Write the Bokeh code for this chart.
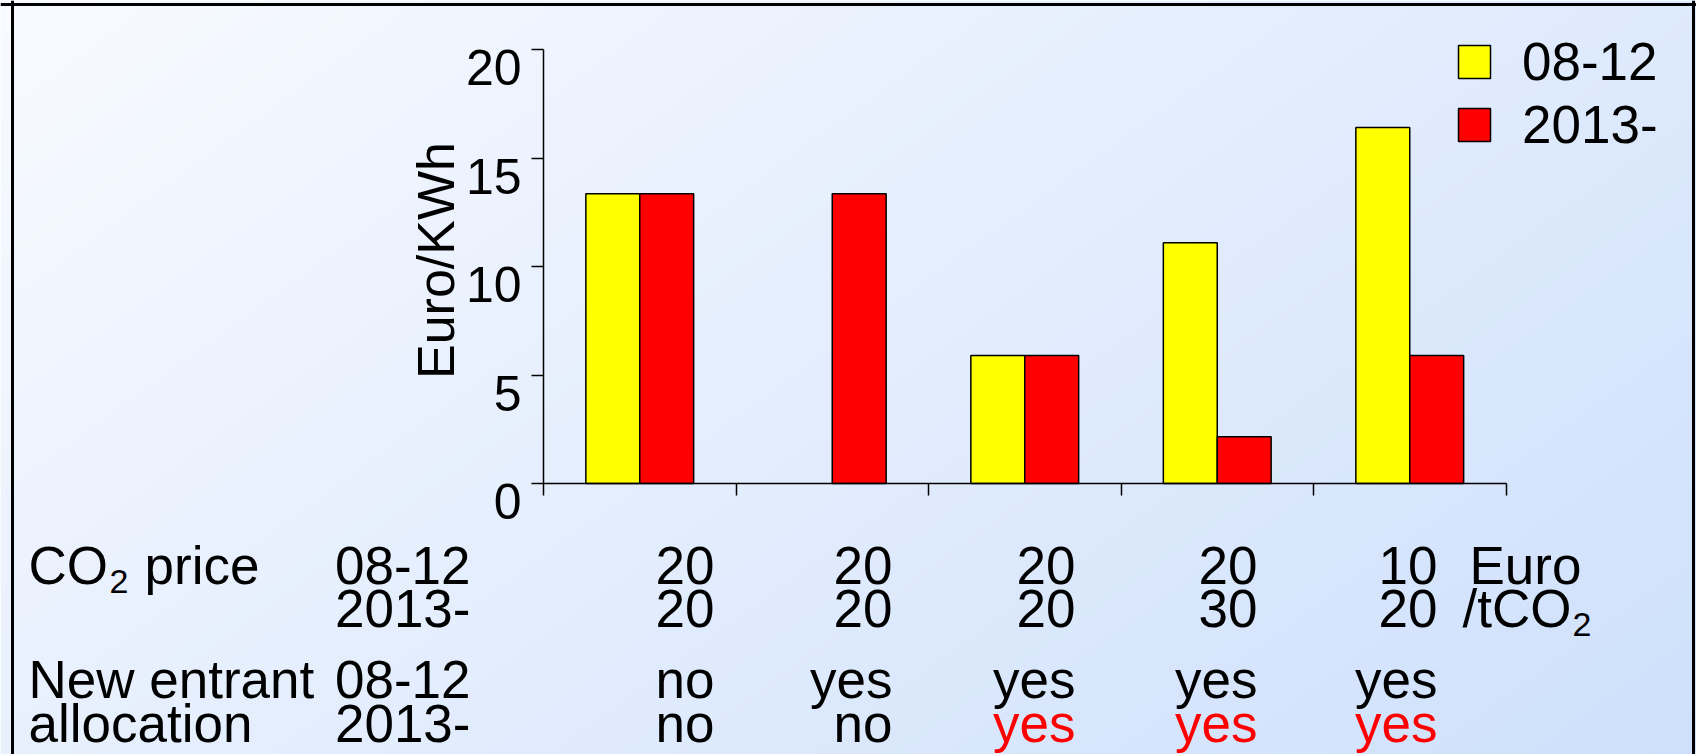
import numpy as np
from bokeh.plotting import figure
from bokeh.models import Range1d, LinearAxis, FixedTicker, Legend, LegendItem, Span
from bokeh.core.properties import value
from bokeh.embed import file_html
from bokeh.resources import INLINE

# ---------------- data ----------------
scenarios = ["S1", "S2", "S3", "S4", "S5"]
period_labels = ["08-12", "2013-"]
value_0812 = [13.35, 0.0, 5.9, 11.1, 16.4]
value_2013 = [13.35, 13.35, 5.9, 2.15, 5.9]
y_ticks = [0, 5, 10, 15, 20]
y_axis_title = "Euro/KWh"
co2_price_0812 = ["20", "20", "20", "20", "10"]
co2_price_2013 = ["20", "20", "20", "30", "20"]
new_entrant_0812 = ["no", "yes", "yes", "yes", "yes"]
new_entrant_2013 = ["no", "no", "yes", "yes", "yes"]
price_unit = ["Euro", "/tCO"]

# ---------------- layout (page pixels) ----------------
W, H = 1696, 754
AX_X0, AX_X5 = 543.0, 1505.5
AX_Y0, AX_Y20 = 483.0, 49.0
XU = (AX_X5 - AX_X0) / len(scenarios)
YU = (AX_Y0 - AX_Y20) / 20.0
x_start = -AX_X0 / XU
x_end = x_start + W / XU
y_end = AX_Y0 / YU
y_start = y_end - H / YU


def X(px):
    return (px - AX_X0) / XU


def Y(py):
    return (AX_Y0 - py) / YU


FONT_NAME = "Liberation Sans"
FONT = value(FONT_NAME)
YELLOW = "#ffff00"
RED = "#ff0000"

p = figure(width=W, height=H, x_range=Range1d(x_start, x_end), y_range=Range1d(y_start, y_end),
           x_axis_type=None, y_axis_type=None, output_backend="svg", toolbar_location=None,
           min_border=0, outline_line_color=None, border_fill_color="white")
p.grid.visible = False

# background gradient
nx, ny = 320, 160
xn = np.linspace(0, 1, nx)[None, :]
yn_top = (1 - np.linspace(0, 1, ny))[:, None]
t = np.clip(0.62 * xn + 0.38 * yn_top, 0, 1)
c0 = np.array([248, 250, 255], dtype=float)
c1 = np.array([206, 224, 251], dtype=float)
rgba = np.zeros((ny, nx, 4), dtype=np.uint8)
for k in range(3):
    rgba[:, :, k] = np.round(c0[k] + t * (c1[k] - c0[k])).astype(np.uint8)
rgba[:, :, 3] = 255
img = rgba.view(dtype=np.uint32).reshape((ny, nx))
p.image_rgba(image=[img], x=x_start, y=y_start, dw=x_end - x_start, dh=y_end - y_start, level="image")

# bars
centers = np.arange(len(scenarios)) + 0.5
dodge, bw = 0.14, 0.28
ix0 = [i for i, v in enumerate(value_0812) if v > 0]
r1 = p.vbar(x=[centers[i] - dodge for i in ix0], top=[value_0812[i] for i in ix0], width=bw,
            fill_color=YELLOW, line_color="black", line_width=1.5)
r2 = p.vbar(x=list(centers + dodge), top=value_2013, width=bw,
            fill_color=RED, line_color="black", line_width=1.5)

# axes
yaxis = LinearAxis(fixed_location=0, bounds=(0, 20), ticker=FixedTicker(ticks=y_ticks),
                   major_label_overrides={t_: "" for t_ in y_ticks},
                   major_tick_out=12, major_tick_in=0, minor_tick_out=0, minor_tick_in=0,
                   axis_line_color="black", axis_line_width=1.5,
                   major_tick_line_color="black", major_tick_line_width=1.5)
p.add_layout(yaxis, "left")
xt = list(range(len(scenarios) + 1))
xaxis = LinearAxis(fixed_location=0, bounds=(0, len(scenarios)), ticker=FixedTicker(ticks=xt),
                   major_label_overrides={t_: "" for t_ in xt},
                   major_tick_out=12, major_tick_in=0, minor_tick_out=0, minor_tick_in=0,
                   axis_line_color="black", axis_line_width=1.5,
                   major_tick_line_color="black", major_tick_line_width=1.5)
p.add_layout(xaxis, "below")

# y tick labels (shifted below their ticks as in the original)
p.text(x=[0] * len(y_ticks), y=y_ticks, text=[str(v) for v in y_ticks], x_offset=-22, y_offset=18,
       text_align="right", text_baseline="middle", text_font=FONT, text_font_size="50px",
       text_color="black")
# y axis title
p.text(x=[0], y=[10], text=[y_axis_title], angle=np.pi / 2, x_offset=-108, y_offset=-6,
       text_align="center", text_baseline="middle", text_font=FONT, text_font_size="52px",
       text_color="black")

# legend
legend = Legend(items=[LegendItem(label=period_labels[0], renderers=[r1]),
                       LegendItem(label=period_labels[1], renderers=[r2])],
                location=(1454, 599), glyph_width=40, glyph_height=41, label_height=41,
                label_standoff=28, spacing=2, padding=0, margin=0,
                label_text_font=FONT_NAME, label_text_font_size="53px", label_text_baseline="middle",
                label_text_color="black",
                border_line_color=None, background_fill_alpha=0)
p.add_layout(legend)

# table below the chart (y = vertical centre of each text line)
TS = "53px"
SUB = "34px"
rows_mid = [565, 608, 679, 723]
col_right = [714, 892, 1075, 1257, 1437]

# row titles
p.text(x=[X(28), X(144), X(28), X(28)], y=[Y(rows_mid[0]), Y(rows_mid[0]), Y(rows_mid[2]), Y(rows_mid[3])],
       text=["CO", "price", "New entrant", "allocation"], text_align="left",
       text_baseline="middle", text_font=FONT, text_font_size=TS, text_color="black")
p.text(x=[X(109), X(1572)], y=[Y(rows_mid[0] + 16), Y(rows_mid[1] + 16)], text=["2", "2"], text_align="left",
       text_baseline="middle", text_font=FONT, text_font_size=SUB, text_color="black")
# period labels
p.text(x=[X(470)] * 4, y=[Y(b) for b in rows_mid],
       text=[period_labels[0], period_labels[1], period_labels[0], period_labels[1]],
       text_align="right", text_baseline="middle", text_font=FONT, text_font_size=TS,
       text_color="black")
# values
rows_vals = [co2_price_0812, co2_price_2013, new_entrant_0812, new_entrant_2013]
tx, ty, tt, tc = [], [], [], []
for r, vals in enumerate(rows_vals):
    for c, v in enumerate(vals):
        tx.append(X(col_right[c]))
        ty.append(Y(rows_mid[r]))
        tt.append(v)
        tc.append(RED if (r == 3 and v == "yes") else "black")
p.text(x=tx, y=ty, text=tt, text_color=tc, text_align="right", text_baseline="middle",
       text_font=FONT, text_font_size=TS)
# unit
p.text(x=[X(1469), X(1462)], y=[Y(rows_mid[0]), Y(rows_mid[1])], text=price_unit, text_align="left",
       text_baseline="middle", text_font=FONT, text_font_size=TS, text_color="black")

# slide box border
p.add_layout(Span(location=X(12), dimension="height", line_color="black", line_width=3))
p.add_layout(Span(location=Y(4), dimension="width", line_color="black", line_width=3))
p.add_layout(Span(location=X(1693), dimension="height", line_color="black", line_width=3))

open("out.html", "w").write(file_html(p, INLINE))
